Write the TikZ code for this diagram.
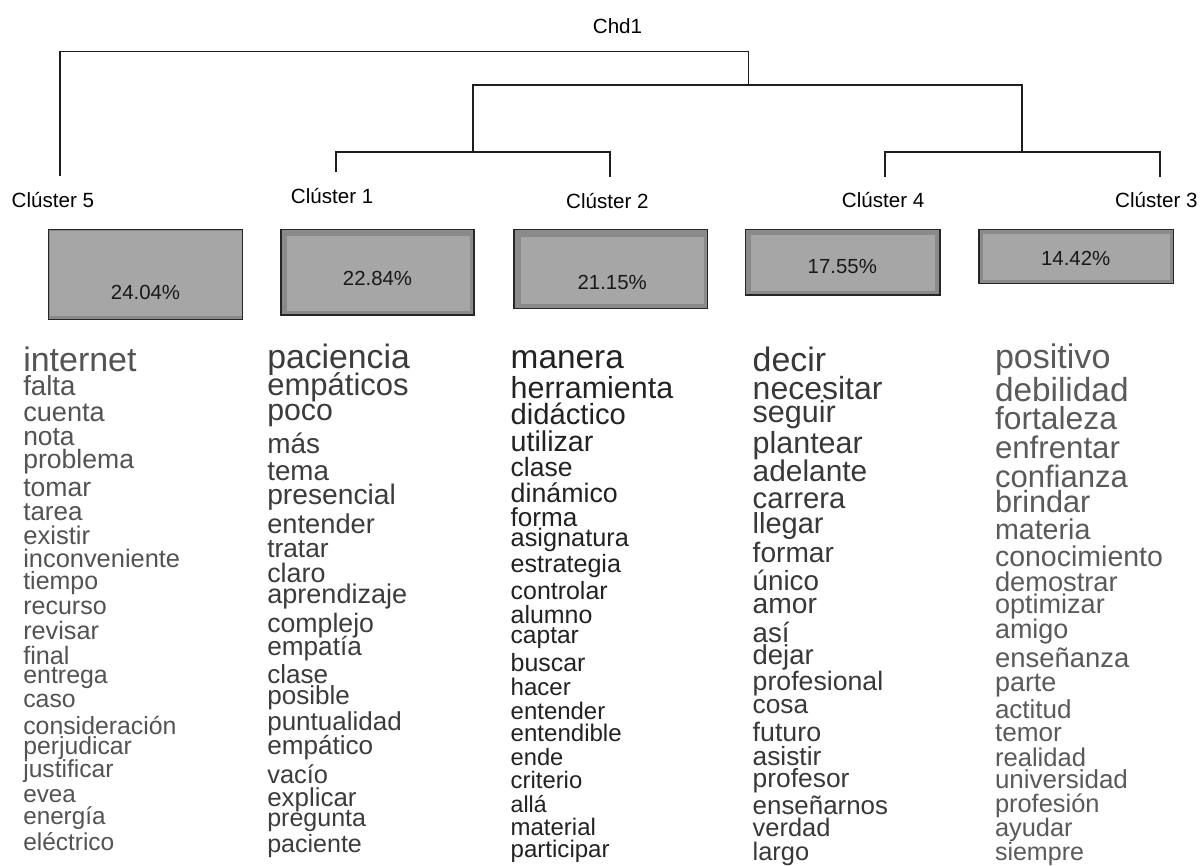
\documentclass[tikz,border=0pt]{standalone}
\usepackage{fontspec}
\setmainfont{Liberation Sans}
\definecolor{cA}{HTML}{535353}
\definecolor{cB}{HTML}{3C3C3C}
\definecolor{cC}{HTML}{222222}
\definecolor{cD}{HTML}{383838}
\definecolor{cE}{HTML}{5A5A5A}
\definecolor{band}{HTML}{8A8A8A}
\definecolor{fillg}{HTML}{A6A6A6}
\definecolor{linec}{HTML}{1E1E1E}
\begin{document}
\begin{tikzpicture}[x=1pt,y=-1pt,
  word/.style={anchor=base west,inner sep=0pt,outer sep=0pt},
  lbl/.style={anchor=base west,inner sep=0pt,font=\fontsize{20.6}{20.6}\selectfont,text=black},
  pct/.style={anchor=base,inner sep=0pt,font=\fontsize{20.4}{20.4}\selectfont,text=black!90},
  dendro/.style={draw=linec,line width=1.3pt},
  outerbox/.style={fill=band,draw=black!85,line width=1.4pt},
  innerbox/.style={fill=fillg,draw=none}]
\useasboundingbox[fill=white] (0,0) rectangle (1201,865);

% ---- dendrogram ----
\node[lbl] (chd) at (592.7,33.3) {Chd1};
\coordinate (k5) at (60,175.5);
\coordinate (k1) at (336,172);
\coordinate (k2) at (610,176.5);
\coordinate (k4) at (885,176.5);
\coordinate (k3) at (1160,176.5);
\coordinate (m12) at (473,152);
\coordinate (m43) at (1022,152);
\coordinate (m1243) at (748.3,85);
\draw[dendro] (k1) |- (m12) -| (k2);
\draw[dendro] (k4) |- (m43) -| (k3);
\draw[dendro] (m12) -- (473,85) -| (m43);
\draw[dendro] (k5) -- (60,51.7) -| (m1243);

\node[lbl] (l5) at (11.5,207.3) {Clúster 5};
\node[lbl] (l1) at (290.7,203.3) {Clúster 1};
\node[lbl] (l2) at (566,208.3) {Clúster 2};
\node[lbl] (l4) at (841.7,207.3) {Clúster 4};
\node[lbl] (l3) at (1115,207.3) {Clúster 3};

% ---- boxes ----
\draw[outerbox] (48.3,229.3) rectangle (242.7,319.3);
\fill[innerbox] (49.5,230.5) rectangle (241.5,316);
\node[pct] (p5) at (145.5,299.3) {24.04\%};

\draw[outerbox] (281,229.3) rectangle (474,315);
\fill[innerbox] (287.3,236) rectangle (470,311);
\node[pct] (p1) at (377.5,285) {22.84\%};

\draw[outerbox] (514,229.3) rectangle (707.3,308.3);
\fill[innerbox] (521,236.7) rectangle (704.3,304.3);
\node[pct] (p2) at (612.2,289) {21.15\%};

\draw[outerbox] (745.7,229.3) rectangle (940,295);
\fill[innerbox] (751,235) rectangle (935,291);
\node[pct] (p4) at (842.3,273.3) {17.55\%};

\draw[outerbox] (979,229.3) rectangle (1173.3,283.3);
\fill[innerbox] (983,233.5) rectangle (1169.5,280);
\node[pct] (p3) at (1075.7,265) {14.42\%};

% ---- word lists ----
\foreach \w/\s/\y [count=\i, evaluate=\s as \ss using \s*0.97] in {
  internet/35/371.6, falta/28.5/395.5, cuenta/28/421.4, nota/27.2/445.0,
  problema/27.4/468.2, tomar/27.4/496.2, tarea/26.8/520.0, existir/26.4/544.3,
  inconveniente/26.2/567.8, tiempo/25.7/589.3, recurso/25.8/614.2,
  revisar/26/639.8, final/26/664.4, entrega/25.7/683.1, caso/25.6/707.0,
  consideración/25.6/734.3, perjudicar/25.5/754.8, justificar/25.4/777.0,
  evea/25/802.6, energía/25/824.7, eléctrico/25.2/850.3}
  \node[word,text=cA,font={\fontsize{\ss}{\ss}\selectfont}] (wa\i) at (23.3,\y) {\w};

\foreach \w/\s/\y [count=\i, evaluate=\s as \ss using \s*0.97] in {
  paciencia/34.8/368.2, empáticos/32/395.5, poco/31.2/420.4, más/28.8/453.5,
  tema/28.6/480.1, presencial/29.1/504.0, entender/28.1/533.0, tratar/27.1/557.9,
  claro/27.7/582.5, aprendizaje/27.9/603.0, complejo/27.5/632.0,
  empatía/27/655.8, clase/26.9/683.1, posible/26.9/704.3,
  puntualidad/26.8/730.2, empático/26.9/754.8, vacío/26.2/783.8,
  explicar/26.7/806.0, pregunta/25.8/826.4, paciente/25.8/852.0}
  \node[word,text=cB,font={\fontsize{\ss}{\ss}\selectfont}] (wb\i) at (267.3,\y) {\w};

\foreach \w/\s/\y [count=\i, evaluate=\s as \ss using \s*0.97] in {
  manera/34.4/368.2, herramienta/31.4/398.2, didáctico/30.1/424.9,
  utilizar/29.5/451.1, clase/27.3/476.7, dinámico/27.6/502.3, forma/26.9/526.2,
  asignatura/26.1/546.7, estrategia/25.9/572.3, controlar/25.7/599.5,
  alumno/25.7/623.4, captar/25.3/643.2, buscar/25.7/671.2, hacer/24.8/695.1,
  entender/24.7/719.0, entendible/24.8/741.1, ende/24.4/765.0,
  criterio/24.6/788.9, allá/23.8/812.8, material/24.7/835.0,
  participar/24.8/857.2}
  \node[word,text=cC,font={\fontsize{\ss}{\ss}\selectfont}] (wc\i) at (510.7,\y) {\w};

\foreach \w/\s/\y [count=\i, evaluate=\s as \ss using \s*0.97] in {
  decir/34.9/371.6, necesitar/33/399.9, seguir/31.5/422.8, plantear/31.4/453.5,
  adelante/30.8/481.8, carrera/30.2/508.1, llegar/29.9/533.0, formar/29/562.0,
  único/28.6/590.3, amor/29.1/613.2, así/28.5/642.2, dejar/28.3/664.4,
  profesional/27.5/690.0, cosa/27.1/713.2, futuro/27.6/741.1,
  asistir/27.1/765.0, profesor/27.2/787.2, enseñarnos/26.7/814.5,
  verdad/26.2/836.7, largo/26.2/860.6}
  \node[word,text=cD,font={\fontsize{\ss}{\ss}\selectfont}] (wd\i) at (752.7,\y) {\w};

\foreach \w/\s/\y [count=\i, evaluate=\s as \ss using \s*0.97] in {
  positivo/35.1/368.2, debilidad/34.4/401.7, fortaleza/32.8/429.6,
  enfrentar/32.2/458.0, confianza/32/487.0, brindar/31.6/512.5,
  materia/29.5/539.8, conocimiento/29.4/566.5, demostrar/28.1/591.0,
  optimizar/27.9/613.9, amigo/27.8/638.8, enseñanza/28.3/667.8,
  parte/27.8/691.0, actitud/26.8/718.3, temor/27/741.1, realidad/26.4/766.7,
  universidad/26.8/788.9, profesión/26.2/812.8, ayudar/26.2/836.7,
  siempre/25.8/860.6}
  \node[word,text=cE,font={\fontsize{\ss}{\ss}\selectfont}] (we\i) at (995,\y) {\w};
\end{tikzpicture}
\end{document}
